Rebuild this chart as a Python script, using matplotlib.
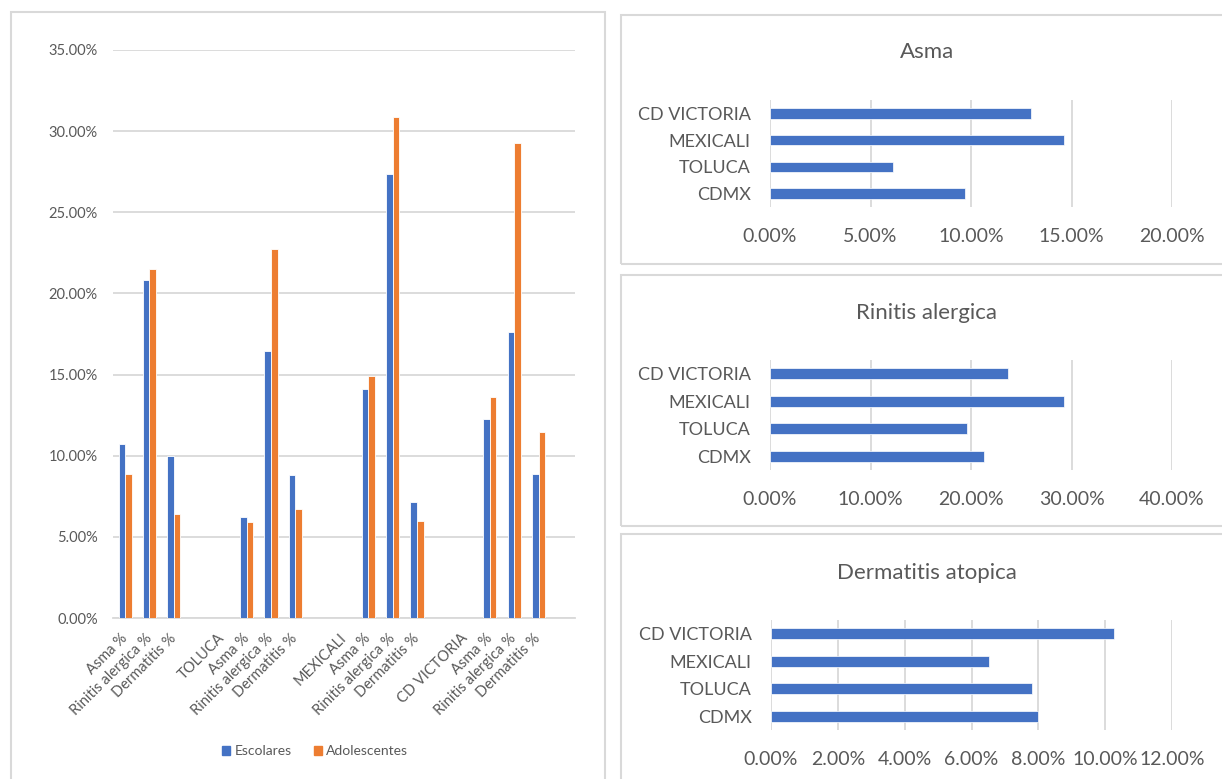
import matplotlib
matplotlib.use("Agg")
import matplotlib.pyplot as plt
from matplotlib.patches import Rectangle, Patch
from matplotlib.ticker import PercentFormatter, MultipleLocator

# ---------------------------------------------------------------------------
# Data
# ---------------------------------------------------------------------------

x_labels = [
    "Asma %", "Rinitis alergica %", "Dermatitis %", "",
    "TOLUCA", "Asma %", "Rinitis alergica %", "Dermatitis %", "",
    "MEXICALI", "Asma %", "Rinitis alergica %", "Dermatitis %", "",
    "CD VICTORIA", "Asma %", "Rinitis alergica %", "Dermatitis %", "",
]
escolares = [
    0.1070, 0.2080, 0.1000, None,
    None, 0.0622, 0.1648, 0.0883, None,
    None, 0.1414, 0.2734, 0.0717, None,
    None, 0.1228, 0.1765, 0.0889, None,
]
adolescentes = [
    0.0889, 0.2153, 0.0643, None,
    None, 0.0591, 0.2276, 0.0674, None,
    None, 0.1494, 0.3089, 0.0595, None,
    None, 0.1361, 0.2930, 0.1145, None,
]

cities = ["CDMX", "TOLUCA", "MEXICALI", "CD VICTORIA"]
asma = [0.0971, 0.0610, 0.1462, 0.1297]
rinitis = [0.2126, 0.1959, 0.2927, 0.2370]
dermatitis = [0.0798, 0.0780, 0.0652, 0.1025]

BLUE = "#4472C4"
ORANGE = "#ED7D31"
GRID = "#D9D9D9"
TEXT = "#595959"

plt.rcParams["font.family"] = ["Lato", "DejaVu Sans"]

W, H = 1222, 779
fig = plt.figure(figsize=(W / 100, H / 100), dpi=100)


def px_axes(x0, y0, x1, y1):
    """Axes from pixel box (top-left origin)."""
    return fig.add_axes([x0 / W, 1 - y1 / H, (x1 - x0) / W, (y1 - y0) / H])


def frame(x0, y0, x1, y1):
    fig.patches.append(Rectangle((x0 / W, 1 - y1 / H), (x1 - x0) / W,
                                 (y1 - y0) / H, transform=fig.transFigure,
                                 fill=False, edgecolor=GRID, lw=1.5))


# chart frames
frame(11, 12, 605, 800)
frame(621, 15, 1240, 264)
frame(621, 275, 1240, 526)
frame(621, 534, 1240, 800)

# ---------------------------------------------------------------------------
# Clustered column chart
# ---------------------------------------------------------------------------
ax = px_axes(113, 50, 575, 618)
bw = 0.27
xs_e = [i for i, v in enumerate(escolares) if v is not None]
xs_a = [i for i, v in enumerate(adolescentes) if v is not None]
ax.bar([i - bw / 2 for i in xs_e], [escolares[i] for i in xs_e], width=bw,
       color=BLUE, edgecolor="white", linewidth=0.6, zorder=3)
ax.bar([i + bw / 2 for i in xs_a], [adolescentes[i] for i in xs_a], width=bw,
       color=ORANGE, edgecolor="white", linewidth=0.6, zorder=3)
ax.set_xlim(-0.5, len(x_labels) - 0.5)
ax.set_ylim(0, 0.35)
ax.yaxis.set_major_locator(MultipleLocator(0.05))
ax.yaxis.set_major_formatter(PercentFormatter(1.0, decimals=2))
ax.grid(axis="y", color=GRID, lw=1.3, zorder=0)
ax.set_xticks(range(len(x_labels)))
ax.set_xticklabels(x_labels, rotation=45, ha="right", va="center",
                   rotation_mode="anchor")
ax.tick_params(axis="x", length=0, pad=13, labelsize=10.5, labelcolor=TEXT)
ax.tick_params(axis="y", length=0, pad=11, labelsize=10.5, labelcolor=TEXT)
for s in ["top", "right", "left"]:
    ax.spines[s].set_visible(False)
ax.spines["bottom"].set_color(GRID)
ax.spines["bottom"].set_linewidth(1.3)

fig.legend(handles=[Patch(color=BLUE, label="Escolares"),
                    Patch(color=ORANGE, label="Adolescentes")],
           loc="center", bbox_to_anchor=(315 / W, 1 - 751 / H), ncol=2,
           frameon=False, fontsize=10, labelcolor=TEXT, handlelength=0.6,
           handleheight=0.6, handletextpad=0.3, columnspacing=1.6)

# ---------------------------------------------------------------------------
# Horizontal bar charts per condition
# ---------------------------------------------------------------------------
panels = [
    ("Asma", asma, 0.20, 0.05, (770, 100, 1172, 207), 52),
    ("Rinitis alergica", rinitis, 0.40, 0.10, (770, 360, 1172, 470), 313),
    ("Dermatitis atopica", dermatitis, 0.12, 0.02, (771, 620, 1172, 730), 573),
]
for title, vals, xmax, step, box, ty in panels:
    hx = px_axes(*box)
    hx.barh(range(len(cities)), vals, height=0.4, color=BLUE,
            edgecolor="white", linewidth=0.5, zorder=3)
    hx.set_ylim(-0.5, len(cities) - 0.5)
    hx.set_xlim(0, xmax)
    hx.xaxis.set_major_locator(MultipleLocator(step))
    hx.xaxis.set_major_formatter(PercentFormatter(1.0, decimals=2))
    hx.set_yticks(range(len(cities)))
    hx.set_yticklabels(cities)
    hx.grid(axis="x", color=GRID, lw=1.3, zorder=0)
    hx.tick_params(axis="x", length=0, pad=15, labelsize=14, labelcolor=TEXT)
    hx.tick_params(axis="y", length=0, pad=14, labelsize=13, labelcolor=TEXT)
    for s in hx.spines.values():
        s.set_visible(False)
    fig.text(927 / W, 1 - ty / H, title, ha="center", va="center",
             fontsize=16, color=TEXT)

fig.savefig("out.png", dpi=100, facecolor="white")
